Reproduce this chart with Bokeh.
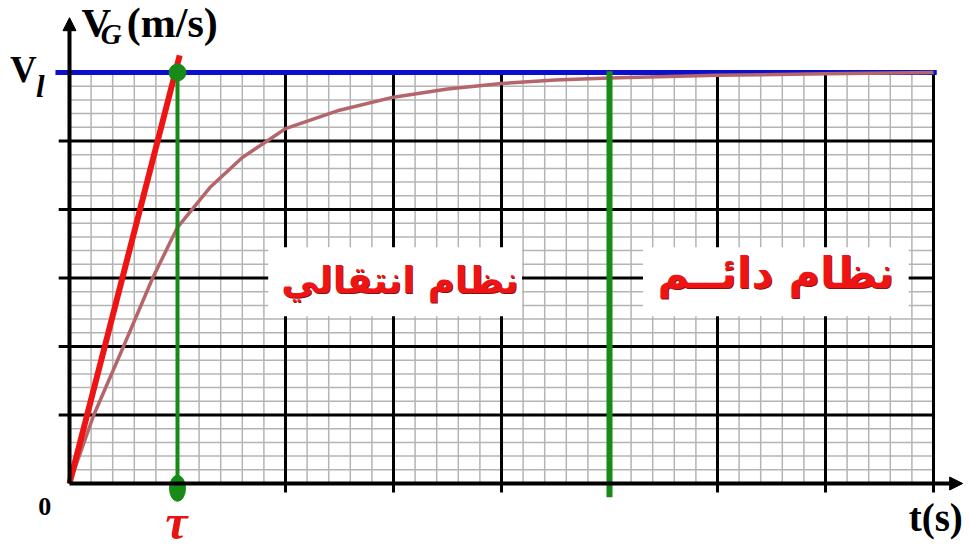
import numpy as np
from bokeh.plotting import figure
from bokeh.models import Label, Arrow, NormalHead
from bokeh.embed import file_html
from bokeh.resources import INLINE

# ---- data (t in grid divisions (tau = 1), V in grid divisions) ----
t_curve = [0, 0.225, 0.5, 0.77, 1.0, 1.3, 1.6, 1.83, 2.0, 2.5, 3.0, 3.5, 4.0, 4.5, 5.0, 6.0, 7.0, 8.0]
v_curve = [0, 1.0, 2.0, 3.0, 3.74, 4.32, 4.76, 5.0, 5.18, 5.45, 5.64, 5.76, 5.84, 5.89, 5.92, 5.96, 5.98, 6.0]
tangent_t = [0, 1.02]
tangent_v = [0, 6.25]
tau = 1.0
v_limit = 6.0
t_steady = 5.0
x_major = list(range(0, 9))
y_major = list(range(0, 7))
minor_step = 0.2
label_transient = "نظام انتقالي"
label_steady = "نظام دائــم"

W, H = 969, 552
px_x, px_y = 108.0, 68.5
ox, oy = 69.0, 483.0   # figure-pixel position of the origin

p = figure(width=W, height=H, output_backend="svg", toolbar_location=None,
           x_range=(-ox / px_x, (W - ox) / px_x),
           y_range=(-(H - oy) / px_y, oy / px_y),
           x_axis_location=None, y_axis_location=None,
           min_border=0, outline_line_color=None)
p.xgrid.visible = False
p.ygrid.visible = False
p.background_fill_color = "white"
p.border_fill_color = "white"

xmax, ymax = x_major[-1], y_major[-1]

# minor grid
xm = [x for x in np.arange(0, xmax + 1e-9, minor_step) if abs(x - round(x)) > 1e-6]
ym = [y for y in np.arange(0, ymax + 1e-9, minor_step) if abs(y - round(y)) > 1e-6]
p.segment(x0=xm, y0=[0] * len(xm), x1=xm, y1=[ymax] * len(xm), line_color="#b4b4b4", line_width=1.5)
p.segment(x0=[0] * len(ym), y0=ym, x1=[xmax] * len(ym), y1=ym, line_color="#b4b4b4", line_width=1.5)

# major grid (slightly overhanging the axes like tick marks)
xM = x_major[1:]
yM = y_major[1:-1]
p.segment(x0=xM, y0=[-0.13] * len(xM), x1=xM, y1=[ymax] * len(xM), line_color="black", line_width=3)
p.segment(x0=[-0.1] * len(yM), y0=yM, x1=[xmax] * len(yM), y1=yM, line_color="black", line_width=3)

# axes with arrows
p.add_layout(Arrow(end=NormalHead(size=13, fill_color="black", line_color="black"),
                   x_start=0, y_start=0, x_end=8.27, y_end=0, line_width=4, line_color="black"))
p.add_layout(Arrow(end=NormalHead(size=13, fill_color="black", line_color="black"),
                   x_start=0, y_start=0, x_end=0, y_end=6.8, line_width=4, line_color="black"))

# white boxes behind Arabic labels
p.quad(left=[1.84, 5.31], right=[4.19, 7.77], bottom=[2.44, 2.44], top=[3.45, 3.45],
       fill_color="white", line_color=None)

# limit velocity line
p.line([-0.13, 8.03], [v_limit, v_limit], line_color="#0c10cc", line_width=5)

# curve
p.line(t_curve, v_curve, line_color="#b5666a", line_width=3.5)

# steady-state boundary
p.line([t_steady, t_steady], [-0.2, v_limit + 0.02], line_color="#188a18", line_width=6)

# tau vertical line
p.line([tau, tau], [0, v_limit], line_color="#188a18", line_width=4)

# tangent at origin
p.line(tangent_t, tangent_v, line_color="#ee1414", line_width=6)

# markers
p.scatter([tau], [v_limit], size=17, marker="circle", fill_color="#188a18", line_color="#188a18")
p.ellipse(x=[tau], y=[-0.07], width=16 / px_x, height=26 / px_y,
          fill_color="#188a18", line_color="#188a18")

# texts
serif = "Liberation Serif"
def lab(x, y, text, size, style="bold", color="black", align="left", baseline="alphabetic", font=serif, **kw):
    p.add_layout(Label(x=x, y=y, text=text, text_font=font, text_font_size=size,
                       text_font_style=style, text_color=color, text_align=align,
                       text_baseline=baseline, **kw))

lab(0.11, 6.73, "V", "41px")
lab(0.29, 6.56, "G", "29px", style="bold italic")
lab(0.53, 6.72, "(m/s)", "42px")
lab(-0.55, 6.05, "V", "37px")
lab(-0.31, 5.79, "l", "31px", style="bold italic")
lab(-0.29, -0.34, "0", "26px")
lab(0.99, -0.56, "τ", "50px", style="bold italic", color="#e81414", align="center", baseline="middle")
lab(7.77, -0.49, "t(s)", "39px")

arab = "DejaVu Sans"
for (xx, yy, txt, fs) in [(3.06, 2.96, label_transient, "37px"), (6.54, 3.07, label_steady, "43px")]:
    lab(xx, yy, txt, fs, color="#8a1010", align="center", baseline="middle", font=arab,
        x_offset=1, y_offset=-1)
    lab(xx, yy, txt, fs, color="#ee1414", align="center", baseline="middle", font=arab)

open("out.html", "w").write(file_html(p, INLINE))
